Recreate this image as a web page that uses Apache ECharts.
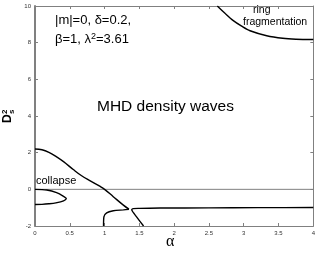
<!DOCTYPE html>
<html><head><meta charset="utf-8">
<script src="https://cdn.jsdelivr.net/npm/echarts@6/dist/echarts.min.js"></script>
<style>html,body{margin:0;padding:0;background:#fff}#c{width:318px;height:253px}</style>
</head><body><div id="c"></div>
<script>
var xTicks = [0, 0.5, 1, 1.5, 2, 2.5, 3, 3.5, 4];
var yTicks = [-2, 0, 2, 4, 6, 8, 10];
var upperBranch = [[0,2.2],[0.1,2.16],[0.2,2.02],[0.3,1.8],[0.41,1.51],[0.55,1.08],[0.67,0.74],[0.8,0.45],[0.93,0.17],[1.0,0.0],[1.125,-0.4],[1.27,-0.86],[1.35,-1.08]];
var collapseLobe = [[0,0],[0.17,-0.04],[0.31,-0.18],[0.41,-0.38],[0.45,-0.5],[0.41,-0.63],[0.3,-0.74],[0.2,-0.79],[0.1,-0.82],[0,-0.83]];
var lowerBranch = [[0.985,-2],[0.99,-1.5],[1.03,-1.28],[1.125,-1.17],[1.27,-1.12],[1.35,-1.09]];
var flatBranch = [[1.56,-2],[1.46,-1.5],[1.39,-1.12],[1.41,-1.05],[1.5,-1.04],[1.8,-1.02],[2.5,-1.01],[3.2,-1.0],[4,-0.99]];
var ringBranch = [[2.62,10],[2.73,9.6],[2.85,9.2],[2.97,8.9],[3.09,8.65],[3.33,8.38],[3.56,8.24],[3.75,8.19],[4,8.17]];
var zeroLine = [[0,0],[4,0]];

var chart = echarts.init(document.getElementById('c'), null, {renderer:'canvas'});
var F = '"Liberation Sans", Arial, sans-serif';
function lineSeries(data, smooth){
  return {type:'line', data:data, showSymbol:false, symbol:'none', smooth:smooth, silent:true,
    lineStyle:{color:'#000', width:1.4}, animation:false, xAxisIndex:0, yAxisIndex:0};
}
var axisCommon = {
  axisLine:{show:true, onZero:false, lineStyle:{color:'#808080', width:1}},
  axisTick:{show:true, inside:true, length:3, lineStyle:{color:'#808080', width:1}},
  splitLine:{show:false}
};
chart.setOption({
  animation:false,
  backgroundColor:'#fff',
  grid:{left:35, right:4, top:6, bottom:27, containLabel:false},
  xAxis:[
    Object.assign({type:'value', min:0, max:4, interval:0.5, position:'bottom',
      axisLabel:{fontSize:6, color:'#333', margin:4, fontFamily:F,
        formatter:function(v){return xTicks.indexOf(v)>=0 ? String(v) : '';}}}, axisCommon),
    Object.assign({type:'value', min:0, max:4, interval:0.5, position:'top',
      axisLabel:{show:false}}, axisCommon)
  ],
  yAxis:[
    Object.assign({type:'value', min:-2, max:10, interval:2, position:'left',
      axisLabel:{fontSize:6, color:'#333', margin:4, fontFamily:F,
        formatter:function(v){return yTicks.indexOf(v)>=0 ? String(v) : '';}}}, axisCommon,
      {axisLine:{show:true, onZero:false, lineStyle:{color:'#808080', width:2}}}),
    Object.assign({type:'value', min:-2, max:10, interval:2, position:'right',
      axisLabel:{show:false}}, axisCommon)
  ],
  series:[
    {type:'line', data:zeroLine, symbol:'none', silent:true, lineStyle:{color:'#808080', width:1}},
    lineSeries(upperBranch, 0.4),
    lineSeries(collapseLobe, 0.3),
    lineSeries(lowerBranch, 0.3),
    lineSeries(flatBranch, 0.2),
    lineSeries(ringBranch, 0.3)
  ],
  graphic:[
    {type:'text', left:55, top:14, style:{text:'|m|=0, δ=0.2,', fontSize:13, fontFamily:F, fill:'#000'}},
    {type:'text', left:55, top:32, style:{text:'β=1, λ{s|2}=3.61', fontSize:13, fontFamily:F, fill:'#000',
      rich:{s:{fontSize:9, verticalAlign:'top', padding:[0,0,6,0], fontFamily:F}}}},
    {type:'text', left:97, top:99, style:{text:'MHD density waves', fontSize:15.5, fontFamily:F, fill:'#000'}},
    {type:'text', left:36, top:175, style:{text:'collapse', fontSize:11, fontFamily:F, fill:'#000'}},
    {type:'text', left:253, top:5, style:{text:'ring', fontSize:10.5, fontFamily:F, fill:'#000'}},
    {type:'text', left:243, top:17, style:{text:'fragmentation', fontSize:10.5, fontFamily:F, fill:'#000'}},
    {type:'group', x:14, y:123, rotation:Math.PI/2, children:[
      {type:'text', x:0, y:0, style:{text:'D', fontSize:12, fontWeight:'bold', fontFamily:F, fill:'#000', textVerticalAlign:'bottom'}},
      {type:'text', x:9, y:-5, style:{text:'2', fontSize:8, fontWeight:'bold', fontFamily:F, fill:'#000', textVerticalAlign:'bottom'}},
      {type:'text', x:9, y:2, style:{text:'s', fontSize:8, fontWeight:'bold', fontFamily:F, fill:'#000', textVerticalAlign:'bottom'}}
    ]},
    {type:'text', left:166, top:234, style:{text:'α', fontSize:16, fontFamily:'"Liberation Serif", serif', fill:'#000'}}
  ]
});
</script></body></html>
